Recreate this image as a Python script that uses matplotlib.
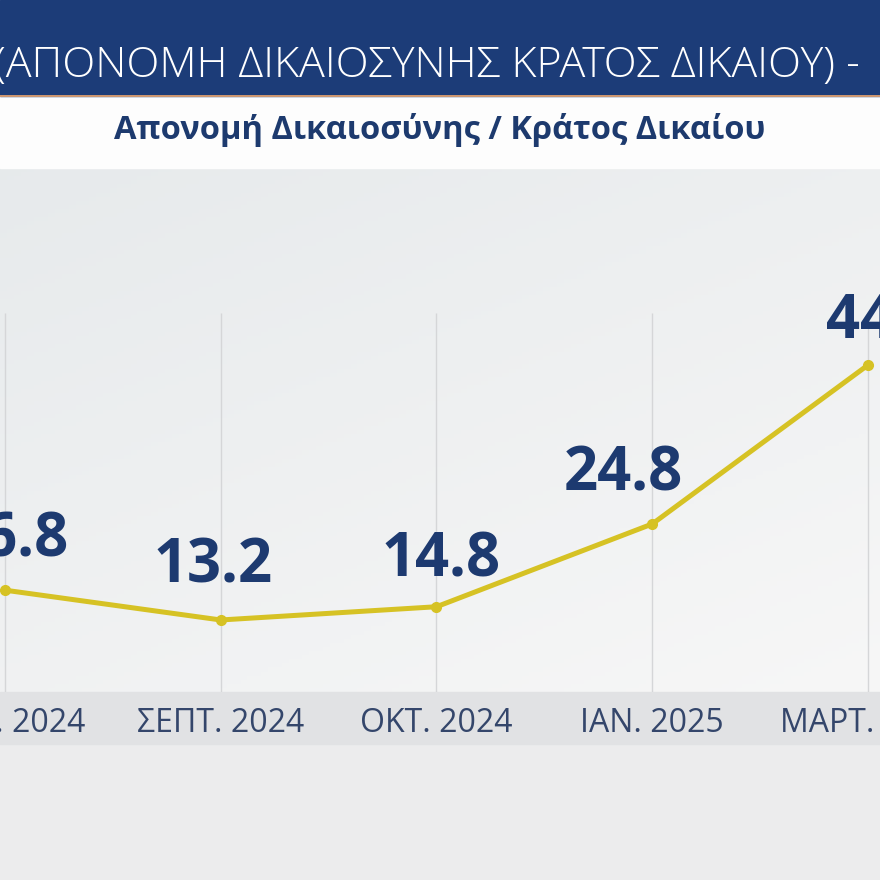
import matplotlib
matplotlib.use('Agg')
import matplotlib.pyplot as plt
import numpy as np
from matplotlib.patches import Rectangle

# ---- data ----
months = ['ΙΟΥΛ. 2024', 'ΣΕΠΤ. 2024', 'ΟΚΤ. 2024', 'ΙΑΝ. 2025', 'ΜΑΡΤ. 2025']
values = [16.8, 13.2, 14.8, 24.8, 44.0]
value_labels = ['16.8', '13.2', '14.8', '24.8', '44.0']
title = '(ΑΠΟΝΟΜΗ ΔΙΚΑΙΟΣΥΝΗΣ ΚΡΑΤΟΣ ΔΙΚΑΙΟΥ) -'
subtitle = 'Απονομή Δικαιοσύνης / Κράτος Δικαίου'

FONT = ['Open Sans', 'DejaVu Sans']
plt.rcParams['font.family'] = FONT

W = H = 880
fig = plt.figure(figsize=(8.8, 8.8), dpi=100)
bg = fig.add_axes([0, 0, 1, 1])
bg.set_xlim(0, W)
bg.set_ylim(H, 0)
bg.axis('off')

# backgrounds
bg.add_patch(Rectangle((0, 0), W, H, color='#ececed', zorder=0))
ny, nx = 128, 128
gy = np.linspace(0, 1, ny)[:, None, None]
gx = np.linspace(0, 1, nx)[None, :, None]
top_left = np.array([0.905, 0.918, 0.925])
bottom_right = np.array([0.968, 0.968, 0.968])
t = np.clip(0.6 * gy + 0.4 * gx, 0, 1)
img = top_left + (bottom_right - top_left) * t
bg.imshow(img, extent=(0, W, 692, 168), aspect='auto', zorder=1)
bg.add_patch(Rectangle((0, 692), W, 52, color='#e1e2e4', zorder=1))
bg.add_patch(Rectangle((0, 96), W, 72, color='#fdfdfd', zorder=1))
bg.add_patch(Rectangle((0, 0), W, 96, color='#1c3c78', zorder=2))
bg.plot([0, W], [96.5, 96.5], color='#e0a070', lw=1.3, zorder=3)

bg.text(-6, 66, title, color='white', fontsize=31, fontweight='light',
        va='center', ha='left', zorder=4)
bg.text(440, 130, subtitle, color='#1d3a6e', fontsize=23.5, fontweight='bold',
        va='center', ha='center', zorder=4)

# chart axes
ax = fig.add_axes([0, 1 - 692 / 880, 1, (692 - 168) / 880])
ax.patch.set_alpha(0)
ax.set_xlim(-5 / 215.75, 4 + 12 / 215.75)
ax.set_ylim(4.5, 67.8)
x = np.arange(len(values))
ax.vlines(x, 4.5, 50.3, color='#d5d6d8', lw=1, zorder=1)
ax.plot(x, values, color='#d6c224', lw=3.6, marker='o', ms=7,
        solid_capstyle='round', zorder=3)

offsets = [(4, 49), (-8, 53), (5, 46), (-29, 49), (18, 42)]
for xi, v, lab, (dx, dy) in zip(x, values, value_labels, offsets):
    ax.annotate(lab, (xi, v), xytext=(dx, dy), textcoords='offset pixels',
                ha='center', va='center', fontsize=43, fontweight='bold',
                color='#1d3a70', zorder=4)

ax.set_xticks(x, months)
ax.set_yticks([])
ax.tick_params(axis='x', length=0, pad=11, labelsize=23, labelcolor='#34466b')
for s in ax.spines.values():
    s.set_visible(False)

fig.savefig('out.png', dpi=100)
